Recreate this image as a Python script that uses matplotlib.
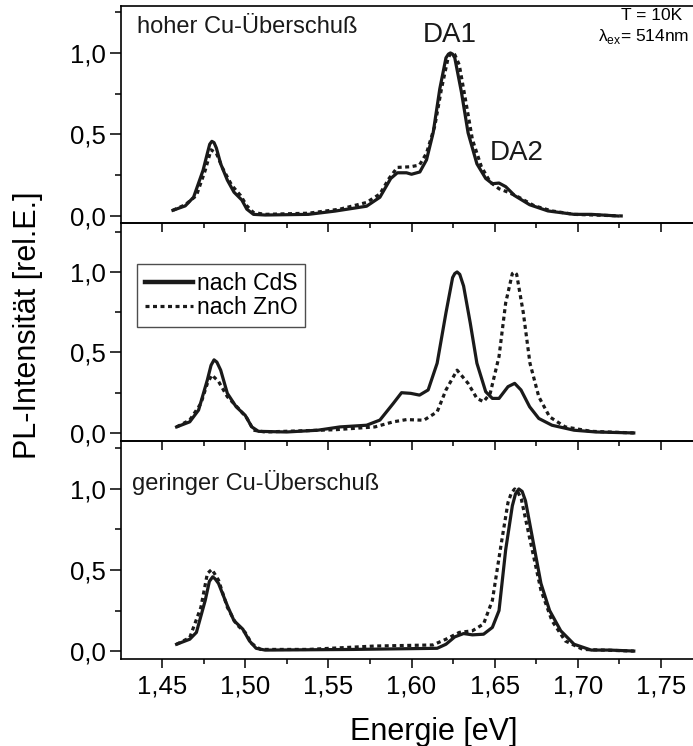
import matplotlib as mpl
mpl.use('Agg')
import matplotlib.pyplot as plt
from matplotlib.ticker import MultipleLocator, FuncFormatter

plt.rcParams['font.family'] = ['Liberation Sans', 'DejaVu Sans']
plt.rcParams['mathtext.fontset'] = 'dejavusans'

# --- data ---
# oben: hoher Cu-Ueberschuss
e_top_cds = [1.4566, 1.464, 1.469, 1.4747, 1.4773, 1.4787, 1.480, 1.4813, 1.4827, 1.4853, 1.4893, 1.4933,
             1.498, 1.501, 1.505, 1.512, 1.538, 1.554, 1.573, 1.581, 1.5875, 1.5915, 1.597, 1.600,
             1.605, 1.609, 1.613, 1.617, 1.6207, 1.6222, 1.6234, 1.6247, 1.626, 1.630, 1.634, 1.6393,
             1.6446, 1.6486, 1.6526, 1.6566, 1.662, 1.671, 1.682, 1.6977, 1.708, 1.724]
i_top_cds = [0.035, 0.062, 0.115, 0.28, 0.385, 0.44, 0.458, 0.45, 0.417, 0.32, 0.22, 0.146,
             0.098, 0.042, 0.01, 0.006, 0.01, 0.03, 0.06, 0.115, 0.23, 0.265, 0.265, 0.256,
             0.27, 0.344, 0.51, 0.78, 0.97, 0.993, 1.0, 0.993, 0.97, 0.76, 0.51, 0.32,
             0.23, 0.198, 0.202, 0.18, 0.125, 0.069, 0.031, 0.01, 0.01, 0.0]
e_top_zno = [1.4566, 1.464, 1.4707, 1.476, 1.4795, 1.4827, 1.4866, 1.492, 1.4973, 1.501, 1.505, 1.512,
             1.538, 1.557, 1.573, 1.581, 1.5864, 1.5915, 1.5995, 1.6048, 1.609, 1.614, 1.618, 1.622,
             1.6235, 1.6247, 1.626, 1.6287, 1.6327, 1.6366, 1.642, 1.6473, 1.6526, 1.658, 1.6645,
             1.6738, 1.6844, 1.6977, 1.727]
i_top_zno = [0.035, 0.069, 0.125, 0.28, 0.406, 0.385, 0.29, 0.1875, 0.125, 0.0625, 0.021, 0.01,
             0.017, 0.042, 0.083, 0.135, 0.229, 0.298, 0.302, 0.3125, 0.385, 0.552, 0.78, 0.97,
             0.995, 1.0, 0.99, 0.927, 0.698, 0.469, 0.302, 0.208, 0.167, 0.146, 0.115,
             0.0625, 0.031, 0.01, 0.0]

# Mitte
e_mid_cds = [1.4588, 1.4667, 1.472, 1.4773, 1.4795, 1.4813, 1.483, 1.4853, 1.4893, 1.4946, 1.500, 1.504,
             1.508, 1.525, 1.5437, 1.557, 1.573, 1.581, 1.589, 1.594, 1.5995, 1.6048, 1.610, 1.6154,
             1.6207, 1.6247, 1.626, 1.6274, 1.629, 1.6313, 1.6353, 1.6393, 1.6446, 1.6486, 1.6526,
             1.658, 1.662, 1.6658, 1.671, 1.6765, 1.6844, 1.6977, 1.711, 1.7336]
i_mid_cds = [0.0375, 0.069, 0.142, 0.33, 0.42, 0.454, 0.44, 0.39, 0.246, 0.1625, 0.11, 0.0375,
             0.01, 0.006, 0.017, 0.0375, 0.048, 0.08, 0.183, 0.25, 0.246, 0.235, 0.267, 0.433,
             0.746, 0.965, 0.99, 1.0, 0.985, 0.9125, 0.683, 0.433, 0.256, 0.2146, 0.2146,
             0.2875, 0.308, 0.267, 0.1625, 0.09, 0.048, 0.017, 0.006, 0.0]
e_mid_zno = [1.4588, 1.4667, 1.4734, 1.4773, 1.480, 1.484, 1.4893, 1.496, 1.5012, 1.505, 1.512, 1.554,
             1.578, 1.589, 1.597, 1.6074, 1.6154, 1.6207, 1.6274, 1.634, 1.6393, 1.6433, 1.6473,
             1.6526, 1.6566, 1.6606, 1.6619, 1.6632, 1.6672, 1.6712, 1.6765, 1.683, 1.6924, 1.708,
             1.7336]
i_mid_zno = [0.0375, 0.08, 0.183, 0.308, 0.36, 0.32, 0.225, 0.152, 0.09, 0.017, 0.006, 0.02,
             0.0375, 0.069, 0.083, 0.079, 0.131, 0.267, 0.39, 0.308, 0.2146, 0.194, 0.246,
             0.475, 0.808, 0.99, 1.0, 0.985, 0.746, 0.433, 0.225, 0.1, 0.0375, 0.01,
             0.0]

# unten: geringer Cu-Ueberschuss
e_bot_cds = [1.4588, 1.4667, 1.4707, 1.476, 1.4785, 1.4805, 1.482, 1.484, 1.4893, 1.4933, 1.4986, 1.5026,
             1.5066, 1.512, 1.565, 1.6154, 1.6207, 1.626, 1.6313, 1.6366, 1.6433, 1.6486, 1.6526,
             1.6566, 1.6606, 1.6625, 1.6645, 1.6665, 1.6685, 1.6725, 1.6778, 1.683, 1.6897, 1.6977,
             1.708, 1.719, 1.7336]
i_bot_cds = [0.042, 0.073, 0.115, 0.3125, 0.43, 0.458, 0.445, 0.417, 0.28, 0.1875, 0.135, 0.0625,
             0.017, 0.006, 0.01, 0.017, 0.042, 0.0875, 0.108, 0.1, 0.104, 0.146, 0.25,
             0.625, 0.896, 0.97, 1.0, 0.985, 0.927, 0.708, 0.417, 0.25, 0.125, 0.042,
             0.006, 0.006, 0.0]
e_bot_zno = [1.4588, 1.4667, 1.4734, 1.4773, 1.480, 1.484, 1.4893, 1.4946, 1.500, 1.504, 1.5092, 1.538,
             1.578, 1.6128, 1.6207, 1.6287, 1.6366, 1.6433, 1.6486, 1.654, 1.658, 1.660, 1.662,
             1.664, 1.666, 1.6712, 1.6778, 1.6844, 1.6924, 1.703, 1.7336]
i_bot_zno = [0.042, 0.083, 0.27, 0.479, 0.504, 0.4375, 0.27, 0.167, 0.115, 0.046, 0.01, 0.01,
             0.031, 0.0375, 0.073, 0.115, 0.125, 0.167, 0.3125, 0.667, 0.917, 0.975, 1.0,
             0.98, 0.9375, 0.6875, 0.375, 0.1875, 0.0625, 0.01, 0.0]

x_ticks = [1.45, 1.50, 1.55, 1.60, 1.65, 1.70, 1.75]
y_ticks = [0.0, 0.5, 1.0]

W, H = 693, 746
fig = plt.figure(figsize=(W / 100, H / 100), dpi=100)

left = 120.7 / W
width = 582.3 / W
# (top px, bottom px) for each panel
rows = [(6, 223), (223, 441), (441, 659)]
ylims = [(-0.043, 1.288), (-0.05, 1.304), (-0.049, 1.296)]

dots = (0, (1.25, 1.1))
comma = FuncFormatter(lambda v, p: ('%.2f' % v).replace('.', ','))
comma1 = FuncFormatter(lambda v, p: ('%.1f' % v).replace('.', ','))

data = [(e_top_cds, i_top_cds, e_top_zno, i_top_zno),
        (e_mid_cds, i_mid_cds, e_mid_zno, i_mid_zno),
        (e_bot_cds, i_bot_cds, e_bot_zno, i_bot_zno)]

axes = []
for k, (t, b) in enumerate(rows):
    ax = fig.add_axes([left, (H - b) / H, width, (b - t) / H])
    ec, ic, ez, iz = data[k]
    ax.plot(ez, iz, color='#1a1a1a', lw=2.3, linestyle=dots, label='nach ZnO')
    ax.plot(ec, ic, color='#1a1a1a', lw=2.3, label='nach CdS')
    ax.set_xlim(1.4252, 1.7752)
    ax.set_ylim(*ylims[k])
    ax.set_xticks(x_ticks)
    ax.xaxis.set_minor_locator(MultipleLocator(0.025))
    ax.set_yticks(y_ticks)
    ax.yaxis.set_minor_locator(MultipleLocator(0.25))
    ax.yaxis.set_major_formatter(comma1)
    ax.xaxis.set_major_formatter(comma)
    ax.tick_params(axis='y', which='major', direction='out', length=8, width=1.1,
                   labelsize=18.5, pad=3)
    ax.tick_params(axis='y', which='minor', direction='out', length=4, width=1.1)
    ax.tick_params(axis='x', which='major', direction='out', length=6.5, width=1.1,
                   labelsize=18.5, pad=5)
    ax.tick_params(axis='x', which='minor', direction='out', length=3.5, width=1.1)
    if k < 2:
        ax.tick_params(axis='x', labelbottom=False)
    for s in ax.spines.values():
        s.set_linewidth(1.2)
    ax.patch.set_alpha(0)
    axes.append(ax)

ax_top, ax_mid, ax_bot = axes

ax_top.text(0.028, 0.876, 'hoher Cu-Überschuß', transform=ax_top.transAxes,
            fontsize=17, ha='left', va='baseline', color='#1a1a1a')
ax_top.text(0.5655, 0.834, 'DA1', transform=ax_top.transAxes,
            fontsize=20, ha='center', va='baseline', color='#1a1a1a')
ax_top.text(0.6805, 0.29, 'DA2', transform=ax_top.transAxes,
            fontsize=20, ha='center', va='baseline', color='#1a1a1a')
ax_bot.text(0.019, 0.775, 'geringer Cu-Überschuß', transform=ax_bot.transAxes,
            fontsize=17, ha='left', va='baseline', color='#1a1a1a')

fig.text(652 / W, (H - 20) / H, 'T = 10K', fontsize=12.5, ha='center', va='baseline')
fig.text(689 / W, (H - 41) / H, r'λ$_{\mathregular{ex}}$= 514nm', fontsize=12.5,
         ha='right', va='baseline')

h, l = ax_mid.get_legend_handles_labels()
leg = ax_mid.legend(h[::-1], l[::-1], loc='upper left', bbox_to_anchor=(0.028, 0.812),
                    borderaxespad=0, fontsize=16.5, frameon=True, fancybox=False,
                    handlelength=2.1, handletextpad=0.15, labelspacing=0.05, borderpad=0.35)
leg.get_frame().set_edgecolor('#222222')
leg.get_frame().set_linewidth(1.0)
leg.get_lines()[0].set_linewidth(3.2)

fig.text(28 / W, (H - 325) / H, 'PL-Intensität [rel.E.]', rotation=90, fontsize=22,
         ha='center', va='center')
fig.text(434 / W, (H - 740) / H, 'Energie [eV]', fontsize=22, ha='center', va='baseline')

fig.savefig('out.png', dpi=100)
